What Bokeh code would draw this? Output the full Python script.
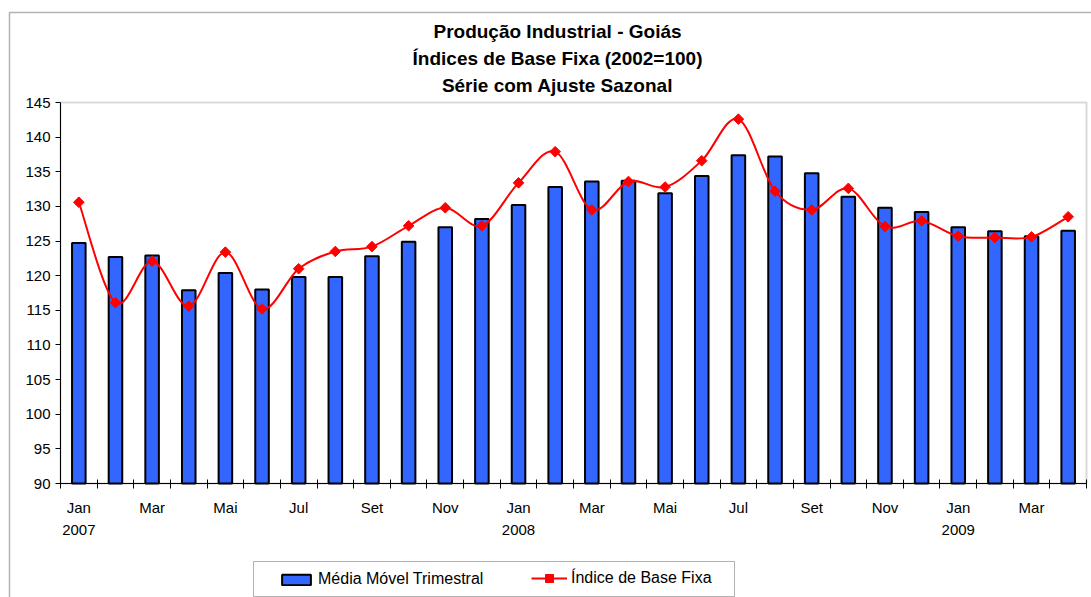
import math
from bokeh.plotting import figure
from bokeh.models import (FixedTicker, Legend, LegendItem, Range1d, LinearAxis,
                          BoxAnnotation, Label)
from bokeh.embed import file_html
from bokeh.resources import INLINE

# ---------------- data ----------------
month_names = ["Jan", "Fev", "Mar", "Abr", "Mai", "Jun",
               "Jul", "Ago", "Set", "Out", "Nov", "Dez"]
start_year = 2007
n_periods = 28  # Jan 2007 .. Abr 2009

media_movel = [124.7, 122.7, 122.9, 117.9, 120.4, 118.0, 119.8, 119.8, 122.8,
               124.9, 127.0, 128.2, 130.2, 132.8, 133.6, 133.7, 131.9, 134.4,
               137.4, 137.2, 134.8, 131.4, 129.8, 129.2, 127.0, 126.4, 125.7,
               126.5]
indice_base = [130.6, 116.1, 122.1, 115.6, 123.4, 115.2, 121.0, 123.5, 124.2,
               127.2, 129.8, 127.2, 133.4, 137.9, 129.5, 133.6, 132.8, 136.6,
               142.6, 132.2, 129.5, 132.6, 127.1, 127.9, 125.7, 125.5, 125.6,
               128.5]
y_ticks = [90, 95, 100, 105, 110, 115, 120, 125, 130, 135, 140, 145]
title_lines = ["Produção Industrial - Goiás",
               "Índices de Base Fixa (2002=100)",
               "Série com Ajuste Sazonal"]
series_names = ["Média Móvel Trimestral", "Índice de Base Fixa"]

# ---------------- layout (canvas pixels) ----------------
W, H = 1091, 597
PX_L, PX_R, PX_T, PX_B = 60, 1086, 102, 483   # plot area
FONT = "Liberation Sans"
BLUE = "#3366FF"
RED = "#FF0000"

y0v, y1v = y_ticks[0], y_ticks[-1]
pxu_x = (PX_R - PX_L) / n_periods
pxu_y = (PX_B - PX_T) / (y1v - y0v)


def X(px):
    return (px - PX_L) / pxu_x


def Y(py):
    return y0v + (PX_B - py) / pxu_y


xs = [i + 0.5 for i in range(n_periods)]

p = figure(width=W, height=H, output_backend="svg", toolbar_location=None,
           x_range=Range1d(X(0), X(W)), y_range=Range1d(Y(H), Y(0)),
           x_axis_location=None, y_axis_location=None, title_location=None,
           min_border=0)
p.min_border_left = 0
p.min_border_right = 0
p.min_border_top = 0
p.min_border_bottom = 0
p.background_fill_color = "white"
p.border_fill_color = "white"
p.outline_line_color = None
p.xgrid.visible = False
p.ygrid.visible = False

# outer chart border
p.add_layout(BoxAnnotation(left=X(9), right=X(W + 50), top=Y(12), bottom=Y(H + 50),
                           fill_alpha=0, line_color="black", line_width=1.5,
                           level="underlay"))
# plot area border
p.add_layout(BoxAnnotation(left=0, right=n_periods, bottom=y0v, top=y1v,
                           fill_alpha=0, line_color="#808080", line_width=2,
                           level="underlay"))

# y axis
yax = LinearAxis(fixed_location=0, bounds=(y0v, y1v), ticker=FixedTicker(ticks=y_ticks))
yax.axis_line_color = "black"
yax.axis_line_width = 1
yax.major_tick_line_color = "black"
yax.major_tick_in = 0
yax.major_tick_out = 5
yax.minor_tick_line_color = None
yax.major_label_standoff = 5
yax.major_label_text_font = FONT
yax.major_label_text_font_size = "15px"
yax.major_label_text_color = "black"
p.add_layout(yax, "left")

# x axis: ticks at month boundaries (minor), labels every second month
label_pos = [i + 0.5 for i in range(0, n_periods, 2)]
overrides = {}
for i in range(0, n_periods, 2):
    m = i % 12
    txt = month_names[m]
    if m == 0:
        txt = txt + "\n" + str(start_year + i // 12)
    overrides[i + 0.5] = txt
xax = LinearAxis(fixed_location=y0v, bounds=(0, n_periods),
                 ticker=FixedTicker(ticks=label_pos, minor_ticks=list(range(n_periods + 1))))
xax.major_label_overrides = overrides
xax.axis_line_color = "black"
xax.axis_line_width = 1
xax.major_tick_line_color = None
xax.major_tick_in = 0
xax.major_tick_out = 5
xax.minor_tick_line_color = "black"
xax.minor_tick_in = 4
xax.minor_tick_out = 5
xax.major_label_standoff = 10
xax.major_label_text_font = FONT
xax.major_label_text_font_size = "15px"
xax.major_label_text_color = "black"
xax.major_label_text_line_height = 1.33
p.add_layout(xax, "below")

# bars
bar_r = p.vbar(x=xs, top=media_movel, bottom=y0v, width=0.37,
               fill_color=BLUE, line_color="black", line_width=2)

# smoothed line through the index points (Bezier segments)
bx0, by0, bx1, by1, cx0, cy0, cx1, cy1 = [], [], [], [], [], [], [], []
n = len(indice_base)
for i in range(n - 1):
    pa = (xs[max(i - 1, 0)], indice_base[max(i - 1, 0)])
    pb = (xs[i], indice_base[i])
    pc = (xs[i + 1], indice_base[i + 1])
    pd = (xs[min(i + 2, n - 1)], indice_base[min(i + 2, n - 1)])
    bx0.append(pb[0]); by0.append(pb[1])
    bx1.append(pc[0]); by1.append(pc[1])
    cx0.append(pb[0] + (pc[0] - pa[0]) / 6.0)
    cy0.append(pb[1] + (pc[1] - pa[1]) / 6.0)
    cx1.append(pc[0] - (pd[0] - pb[0]) / 6.0)
    cy1.append(pc[1] - (pd[1] - pb[1]) / 6.0)
curve_r = p.bezier(x0=bx0, y0=by0, x1=bx1, y1=by1, cx0=cx0, cy0=cy0, cx1=cx1,
                   cy1=cy1, line_color=RED, line_width=2)
mark_r = p.scatter(x=xs, y=indice_base, marker="square", angle=math.pi / 4,
                   size=7.5, fill_color=RED, line_color=RED)

# title (three centred lines)
for txt, py in zip(title_lines, [31, 58, 85]):
    p.add_layout(Label(x=X(557), y=Y(py), text=txt, text_align="center",
                       text_baseline="middle", text_font=FONT,
                       text_font_size="19px", text_font_style="bold",
                       text_color="black"))

# legend frame and legends
p.add_layout(BoxAnnotation(left=X(253), right=X(734), top=Y(561), bottom=Y(596),
                           fill_color="white", fill_alpha=1, line_color="black",
                           line_width=1, level="underlay"))
common = dict(orientation="horizontal", border_line_color=None,
              background_fill_alpha=0, padding=0, margin=0, glyph_width=36,
              label_standoff=4, label_text_font=FONT, label_text_font_size="16px",
              label_text_color="black")
legend1 = Legend(items=[LegendItem(label=series_names[0], renderers=[bar_r])],
                 location=(278, H - 588), glyph_height=13, label_height=13, **common)
legend2 = Legend(items=[LegendItem(label=series_names[1], renderers=[curve_r, mark_r])],
                 location=(531, H - 588), glyph_height=20, label_height=13, **common)
p.add_layout(legend1)
p.add_layout(legend2)

open("out.html", "w").write(file_html(p, INLINE))
